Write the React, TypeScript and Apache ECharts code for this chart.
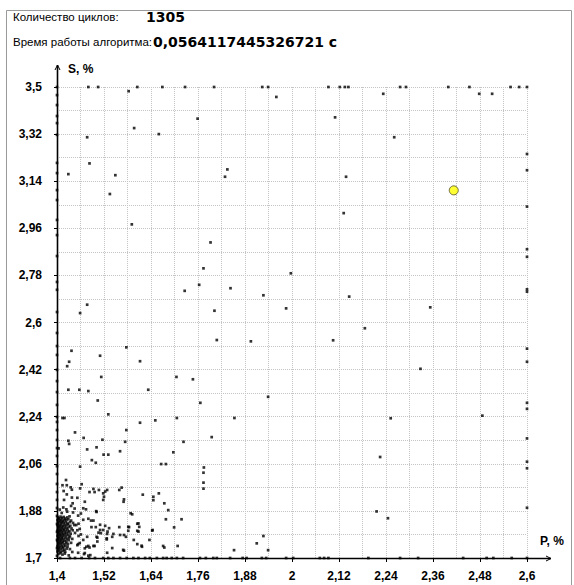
import React, { useEffect, useRef } from 'react';
import * as echarts from 'echarts';

// Axis ranges (P, % on x; S, % on y)
const P_MIN = 1.4;
const P_MAX = 2.6;
const P_STEP = 0.12;
const S_MIN = 1.7;
const S_MAX = 3.5;
const S_STEP = 0.18;

const cyclesLabel = 'Количество циклов:';
const cyclesValue = '1305';
const timeLabel = 'Время работы алгоритма:';
const timeValue = '0,0564117445326721 с';

// Best (highlighted) point
const bestPoint: [number, number][] = [[2.413, 3.105]];

// Points lying on the upper limit S = 3.5
const topEdge: [number, number][] = [
  [1.4, 3.5], [1.48, 3.5], [1.505, 3.5], [1.605, 3.5], [1.669, 3.5], [1.727, 3.5], [1.801, 3.5],
  [1.924, 3.5], [1.939, 3.5], [2.093, 3.5], [2.122, 3.5], [2.135, 3.5], [2.144, 3.5],
  [2.276, 3.5], [2.291, 3.5], [2.399, 3.5], [2.453, 3.5], [2.558, 3.5], [2.58, 3.5], [2.6, 3.5],
];

// Points lying on the right limit P = 2.6
const rightEdge: [number, number][] = [
  [2.6, 3.244], [2.6, 3.182], [2.6, 3.043], [2.6, 2.88], [2.6, 2.851], [2.6, 2.727], [2.6, 2.718],
  [2.6, 2.5], [2.6, 2.45], [2.6, 2.293], [2.6, 2.27], [2.6, 2.157], [2.6, 2.068], [2.6, 2.043],
  [2.6, 1.892], [2.6, 1.7],
];

// Points lying on the lower limit S = 1.7
const bottomEdge: [number, number][] = [
  [1.408, 1.7], [1.433, 1.7], [1.446, 1.7], [1.463, 1.7], [1.482, 1.7], [1.497, 1.7], [1.518, 1.7],
  [1.531, 1.7], [1.544, 1.7], [1.561, 1.7], [1.578, 1.7], [1.595, 1.7], [1.608, 1.7], [1.625, 1.7],
  [1.637, 1.7], [1.655, 1.7], [1.671, 1.7], [1.68, 1.7], [1.693, 1.7], [1.706, 1.7], [1.722, 1.7],
  [1.765, 1.7], [1.78, 1.7], [1.799, 1.7], [1.808, 1.7], [1.842, 1.7], [1.874, 1.7], [1.884, 1.7],
  [1.923, 1.7], [1.934, 1.7], [1.985, 1.7], [2.003, 1.7], [2.071, 1.7], [2.082, 1.7], [2.093, 1.7],
  [2.195, 1.7], [2.276, 1.7], [2.322, 1.7], [2.437, 1.7], [2.497, 1.7], [2.514, 1.7], [2.561, 1.7],
];

// Points lying on the left limit P = 1.4
const leftEdge: [number, number][] = [
  [1.4, 3.469], [1.4, 3.431], [1.4, 3.389], [1.4, 3.362], [1.4, 3.317], [1.4, 3.21], [1.4, 3.171],
  [1.4, 3.106], [1.4, 3.068], [1.4, 2.992], [1.4, 2.934], [1.4, 2.854], [1.4, 2.755], [1.4, 2.725],
  [1.4, 2.64], [1.4, 2.56], [1.4, 2.51], [1.4, 2.476], [1.4, 2.419], [1.4, 2.376], [1.4, 2.334],
  [1.4, 2.285], [1.4, 2.239], [1.4, 2.22], [1.4, 2.189], [1.4, 2.151], [1.4, 2.12], [1.4, 2.09],
  [1.4, 2.051], [1.4, 2.021], [1.4, 1.983], [1.4, 1.952], [1.4, 1.922], [1.4, 1.891], [1.4, 1.861],
  [1.4, 1.83], [1.4, 1.8], [1.4, 1.769], [1.4, 1.738], [1.4, 1.708],
];

// Scattered points in the upper and middle part
const upperPoints: [number, number][] = [
  [1.583, 3.484], [1.96, 3.462], [2.233, 3.474], [2.478, 3.474], [2.511, 3.474],
  [1.597, 3.343], [1.66, 3.32], [1.759, 3.379], [2.11, 3.384], [2.261, 3.308],
  [1.477, 3.308], [1.483, 3.208], [1.429, 3.167], [1.549, 3.163], [1.535, 3.091],
  [1.835, 3.185], [1.829, 3.157], [2.138, 3.157], [2.132, 3.018], [1.591, 2.975], [1.792, 2.906],
  [1.774, 2.807], [1.763, 2.744], [1.726, 2.721], [1.843, 2.731], [1.927, 2.704], [1.997, 2.788],
  [2.146, 2.699], [1.477, 2.668], [1.459, 2.636], [1.802, 2.645], [1.985, 2.654], [2.353, 2.658],
  [2.186, 2.578], [1.808, 2.533], [1.895, 2.528], [2.105, 2.532], [1.577, 2.505], [1.437, 2.492],
  [1.51, 2.473], [1.431, 2.45], [1.612, 2.452], [1.426, 2.433], [2.328, 2.423], [1.513, 2.392],
  [1.705, 2.392], [1.747, 2.383],
];

const middlePoints: [number, number][] = [
  [1.429, 2.343], [1.457, 2.343], [1.48, 2.338], [1.633, 2.343], [1.939, 2.316], [1.504, 2.302],
  [1.766, 2.293], [1.531, 2.249], [1.414, 2.235], [1.419, 2.235], [1.706, 2.235], [1.853, 2.235],
  [2.252, 2.234], [2.486, 2.244], [1.612, 2.217], [1.651, 2.226], [1.577, 2.189], [1.446, 2.18],
  [1.795, 2.162], [1.468, 2.159], [1.429, 2.148], [1.516, 2.152], [1.574, 2.144], [1.723, 2.144],
  [1.431, 2.136], [1.477, 2.115], [1.501, 2.123], [1.404, 2.119], [1.519, 2.095], [1.531, 2.095],
  [1.561, 2.108], [1.697, 2.104], [2.225, 2.086], [1.489, 2.074], [1.499, 2.064], [1.666, 2.059],
  [1.678, 2.059], [1.459, 2.049], [1.775, 2.046], [1.774, 2.026], [1.774, 1.988], [1.774, 1.965],
];

const lowerPoints: [number, number][] = [
  [1.423, 1.998], [1.414, 1.978], [1.435, 1.97], [1.463, 1.982], [1.459, 1.966], [1.493, 1.964],
  [1.507, 1.96], [1.528, 1.96], [1.565, 1.969], [1.52, 1.934], [1.571, 1.924], [1.619, 1.942],
  [1.66, 1.947], [1.646, 1.921], [1.425, 1.943], [1.438, 1.931], [1.418, 1.922], [1.452, 1.93],
  [1.471, 1.915], [1.44, 1.909], [1.467, 1.89], [1.474, 1.886], [1.5, 1.879], [1.588, 1.871],
  [1.684, 1.883], [1.678, 1.848], [1.718, 1.848], [1.699, 1.817], [1.608, 1.832], [1.61, 1.819],
  [1.582, 1.819], [1.582, 1.804], [1.605, 1.804], [1.644, 1.807], [1.523, 1.823], [1.51, 1.807],
  [1.506, 1.797], [1.528, 1.792], [1.544, 1.792], [1.561, 1.788], [1.576, 1.781], [1.527, 1.771],
  [1.501, 1.781], [1.477, 1.781], [1.493, 1.746], [1.48, 1.746], [1.471, 1.737], [1.454, 1.72],
  [1.469, 1.715], [1.571, 1.728], [1.528, 1.72], [1.605, 1.753], [1.616, 1.747], [1.636, 1.769],
  [1.671, 1.746], [1.674, 1.74], [1.708, 1.746], [1.485, 1.711], [1.852, 1.73], [1.91, 1.756],
  [1.927, 1.784], [1.939, 1.73], [2.216, 1.878], [2.245, 1.852],
  [1.425, 1.978], [1.438, 1.961], [1.417, 1.956], [1.483, 1.952], [1.496, 1.952], [1.518, 1.947],
  [1.523, 1.954], [1.559, 1.96], [1.518, 1.922], [1.57, 1.915], [1.646, 1.934], [1.674, 1.909],
  [1.501, 1.876], [1.592, 1.867], [1.467, 1.846], [1.48, 1.85], [1.487, 1.843], [1.493, 1.843],
  [1.51, 1.827], [1.499, 1.818], [1.488, 1.818], [1.518, 1.807], [1.533, 1.814], [1.512, 1.795],
  [1.529, 1.801], [1.559, 1.818], [1.584, 1.818], [1.605, 1.831], [1.608, 1.801], [1.643, 1.805],
  [1.571, 1.788], [1.541, 1.781], [1.527, 1.775], [1.503, 1.778], [1.467, 1.769], [1.454, 1.753],
  [1.475, 1.743], [1.483, 1.74], [1.496, 1.746], [1.503, 1.763], [1.541, 1.738], [1.569, 1.731],
  [1.617, 1.743], [1.596, 1.769], [1.471, 1.719], [1.48, 1.709], [1.439, 1.723], [1.43, 1.71],
  [1.449, 1.826], [1.455, 1.831], [1.452, 1.806], [1.458, 1.811], [1.455, 1.784], [1.461, 1.79],
  [1.452, 1.749], [1.458, 1.757], [1.454, 1.862], [1.461, 1.87], [1.445, 1.889], [1.436, 1.899],
  [1.407, 1.885], [1.416, 1.893], [1.424, 1.886], [1.412, 1.872], [1.426, 1.877], [1.441, 1.874],
];

// Dense cluster hugging the lower-left corner
const clusterPoints: [number, number][] = [
  [1.402, 1.856], [1.405, 1.852], [1.409, 1.858], [1.413, 1.853], [1.417, 1.857], [1.421, 1.851], [1.426, 1.855], [1.432, 1.859],
  [1.401, 1.845], [1.404, 1.848], [1.408, 1.843], [1.411, 1.847], [1.415, 1.842], [1.419, 1.846], [1.424, 1.844], [1.429, 1.848], [1.436, 1.843],
  [1.402, 1.835], [1.406, 1.838], [1.41, 1.833], [1.413, 1.837], [1.417, 1.834], [1.422, 1.836], [1.427, 1.832], [1.433, 1.837], [1.441, 1.834],
  [1.401, 1.825], [1.404, 1.828], [1.407, 1.823], [1.411, 1.827], [1.415, 1.822], [1.419, 1.826], [1.423, 1.824], [1.428, 1.828], [1.434, 1.823], [1.444, 1.826],
  [1.402, 1.815], [1.405, 1.818], [1.409, 1.813], [1.412, 1.817], [1.416, 1.812], [1.42, 1.816], [1.425, 1.814], [1.43, 1.818], [1.437, 1.813],
  [1.401, 1.805], [1.404, 1.808], [1.407, 1.803], [1.41, 1.807], [1.414, 1.802], [1.418, 1.806], [1.422, 1.804], [1.427, 1.808], [1.432, 1.803], [1.44, 1.806],
  [1.402, 1.795], [1.405, 1.798], [1.408, 1.793], [1.412, 1.797], [1.416, 1.792], [1.42, 1.796], [1.424, 1.794], [1.429, 1.798], [1.435, 1.793], [1.446, 1.796],
  [1.401, 1.785], [1.404, 1.788], [1.407, 1.783], [1.411, 1.787], [1.414, 1.782], [1.418, 1.786], [1.423, 1.784], [1.428, 1.788], [1.433, 1.783],
  [1.402, 1.775], [1.405, 1.778], [1.409, 1.773], [1.412, 1.777], [1.416, 1.772], [1.421, 1.776], [1.426, 1.774], [1.431, 1.778], [1.439, 1.773],
  [1.401, 1.765], [1.404, 1.768], [1.408, 1.763], [1.411, 1.767], [1.415, 1.762], [1.419, 1.766], [1.424, 1.764], [1.43, 1.768],
  [1.402, 1.755], [1.406, 1.758], [1.409, 1.753], [1.413, 1.757], [1.418, 1.752], [1.423, 1.756], [1.428, 1.754], [1.436, 1.758],
  [1.401, 1.745], [1.404, 1.748], [1.408, 1.743], [1.412, 1.747], [1.416, 1.742], [1.421, 1.746], [1.427, 1.744],
  [1.402, 1.735], [1.405, 1.738], [1.409, 1.733], [1.414, 1.737], [1.419, 1.732], [1.425, 1.736], [1.433, 1.734],
  [1.401, 1.725], [1.405, 1.728], [1.41, 1.723], [1.415, 1.727], [1.421, 1.724],
  [1.403, 1.715], [1.408, 1.718], [1.414, 1.713], [1.42, 1.717],
];

const W = 574;
const H = 585;
const GRID_LEFT = 57;
const GRID_TOP = 87;
const GRID_RIGHT = 47;
const GRID_BOTTOM = 27;

const fmt = (v: number) => String(Math.round(v * 100) / 100).replace('.', ',');

export default function App() {
  const ref = useRef<HTMLDivElement>(null);

  useEffect(() => {
    if (!ref.current) return;
    const chart = echarts.init(ref.current, undefined, { renderer: 'svg' });
    const axisX0 = GRID_LEFT + 0.5;
    const axisY0 = H - GRID_BOTTOM + 0.5;
    const allPoints = [
      ...topEdge, ...rightEdge, ...bottomEdge, ...leftEdge,
      ...upperPoints, ...middlePoints, ...lowerPoints, ...clusterPoints,
    ];
    const gridLine = { show: true, lineStyle: { color: '#c4c4c4', type: 'dotted' as const, width: 1 } };
    const labelStyle = {
      color: '#000',
      fontFamily: 'Liberation Sans, Arial, sans-serif',
      fontWeight: 'bold' as const,
      fontSize: 12,
    };
    const headerFont = '11.5px "Liberation Sans", Arial, sans-serif';
    const valueFont = 'bold 14px "DejaVu Sans", sans-serif';
    chart.setOption({
      animation: false,
      backgroundColor: '#fff',
      grid: { left: GRID_LEFT, top: GRID_TOP, right: GRID_RIGHT, bottom: GRID_BOTTOM, containLabel: false },
      xAxis: {
        type: 'value',
        min: P_MIN,
        max: P_MAX,
        interval: P_STEP,
        axisLine: { show: false },
        axisTick: { show: true, length: 4, lineStyle: { color: '#000' } },
        minorTick: { show: false, splitNumber: 2 },
        splitLine: gridLine,
        minorSplitLine: gridLine,
        axisLabel: { ...labelStyle, margin: 12, formatter: fmt },
      },
      yAxis: {
        type: 'value',
        min: S_MIN,
        max: S_MAX,
        interval: S_STEP,
        axisLine: { show: false },
        axisTick: { show: true, length: 3, lineStyle: { color: '#000' } },
        minorTick: { show: false, splitNumber: 2 },
        splitLine: gridLine,
        minorSplitLine: gridLine,
        axisLabel: { ...labelStyle, margin: 15, formatter: fmt },
      },
      series: [
        {
          type: 'scatter',
          data: allPoints,
          symbol: 'rect',
          symbolSize: 2.7,
          clip: false,
          itemStyle: { color: '#000' },
          z: 5,
        },
        {
          type: 'scatter',
          data: bestPoint,
          symbol: 'circle',
          symbolSize: 9,
          clip: false,
          itemStyle: { color: '#ffff00', borderColor: '#4a4a20', borderWidth: 1 },
          z: 6,
        },
      ],
      graphic: [
        {
          type: 'rect',
          shape: { x: 6.5, y: 10.5, width: 565, height: 600 },
          style: { fill: 'none', stroke: '#9a9a9a', lineWidth: 1 },
          z: 1,
        },
        {
          type: 'text',
          x: 13,
          y: 17,
          style: { text: cyclesLabel, font: headerFont, fill: '#000', textVerticalAlign: 'middle' },
        },
        {
          type: 'text',
          x: 146,
          y: 17,
          style: { text: cyclesValue, font: valueFont, fill: '#000', textVerticalAlign: 'middle' },
        },
        {
          type: 'text',
          x: 13,
          y: 42,
          style: { text: timeLabel, font: headerFont, fill: '#000', textVerticalAlign: 'middle' },
        },
        {
          type: 'text',
          x: 153,
          y: 42,
          style: { text: timeValue, font: valueFont, fill: '#000', textVerticalAlign: 'middle' },
        },
        // Y axis line with arrow
        {
          type: 'line',
          shape: { x1: axisX0, y1: axisY0, x2: axisX0, y2: 65 },
          style: { stroke: '#000', lineWidth: 1.6 },
          z: 10,
        },
        {
          type: 'polyline',
          shape: { points: [[axisX0 - 2.5, 70], [axisX0, 65], [axisX0 + 2.5, 70]] },
          style: { stroke: '#000', lineWidth: 1, fill: 'none' },
          z: 10,
        },
        // X axis line with arrow
        {
          type: 'line',
          shape: { x1: axisX0, y1: axisY0, x2: 551, y2: axisY0 },
          style: { stroke: '#000', lineWidth: 1.6 },
          z: 10,
        },
        {
          type: 'polyline',
          shape: { points: [[546, axisY0 - 2.5], [551, axisY0], [546, axisY0 + 2.5]] },
          style: { stroke: '#000', lineWidth: 1, fill: 'none' },
          z: 10,
        },
        {
          type: 'text',
          x: 68,
          y: 69,
          style: { text: 'S, %', font: 'bold 12px "Liberation Sans", Arial, sans-serif', fill: '#000', textVerticalAlign: 'middle' },
        },
        {
          type: 'text',
          x: 540,
          y: 541,
          style: { text: 'P, %', font: 'bold 12px "Liberation Sans", Arial, sans-serif', fill: '#000', textVerticalAlign: 'middle' },
        },
      ],
    });
    return () => chart.dispose();
  }, []);

  return (
    <div
      ref={ref}
      style={{ position: 'absolute', left: 0, top: 0, width: W, height: H, background: '#fff' }}
    />
  );
}
